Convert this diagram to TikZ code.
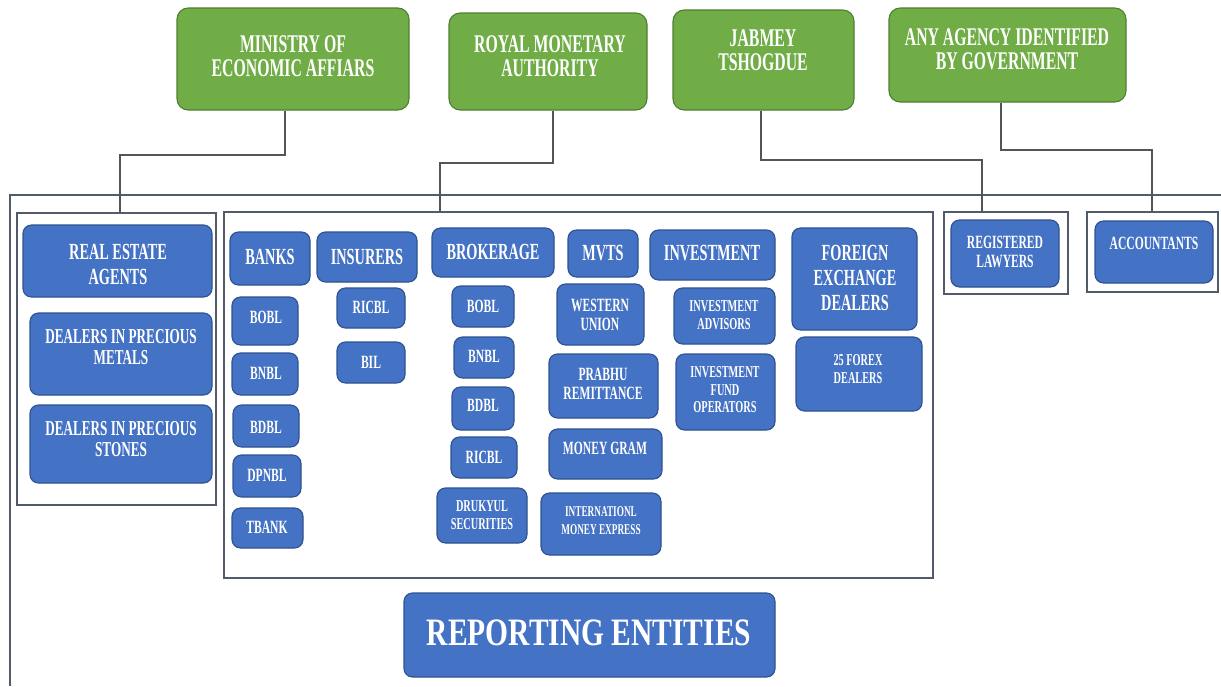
\documentclass[tikz,border=0pt]{standalone}
\usepackage{fontspec}
\newfontfamily\condfont[FakeStretch=0.62]{Liberation Serif}
\newfontfamily\titlefont[FakeStretch=0.76]{Liberation Serif}
\usetikzlibrary{fit}
\definecolor{govgreen}{HTML}{70AD47}
\definecolor{govgreenline}{HTML}{507E32}
\definecolor{entblue}{HTML}{4472C4}
\definecolor{entblueline}{HTML}{2F528F}
\definecolor{frameline}{HTML}{515B69}
\definecolor{linkline}{HTML}{555555}
\tikzset{
  govbox/.style={draw=govgreenline, fill=govgreen, line width=0.8pt, rounded corners=8pt, inner sep=0pt},
  entbox/.style={draw=entblueline, fill=entblue, line width=0.8pt, rounded corners=6pt, inner sep=0pt},
  groupbox/.style={draw=frameline, line width=1pt, inner sep=0pt},
  link/.style={draw=linkline, line width=1.2pt},
  lbl/.style={text=white, align=center, inner sep=0pt},
  govtxt/.style={lbl, font=\fontsize{18.1}{17}\condfont\bfseries},
  headtxt/.style={lbl, font=\fontsize{16.4}{17.8}\condfont\bfseries},
  midtxt/.style={lbl, font=\fontsize{15.1}{14.6}\condfont\bfseries},
  subtxt/.style={lbl, font=\fontsize{13.3}{13.5}\condfont\bfseries},
  smalltxt/.style={lbl, font=\fontsize{11.8}{12.4}\condfont\bfseries},
  tinytxt/.style={lbl, font=\fontsize{10.6}{12.8}\condfont\bfseries},
  bigtxt/.style={lbl, font=\fontsize{27.6}{30}\titlefont\bfseries},
}
\begin{document}
\begin{tikzpicture}[x=0.025cm, y=-0.025cm]
  \useasboundingbox (0,0) rectangle (1221,686);
  \fill[white] (0,0) rectangle (1221,686);

  \draw[groupbox] (1221,195) -- (10,195) -- (10,686);

  \node[govbox, fit={(177,8) (409,110)}] (moea) {};
  \node[govtxt] (moea-t) at (293,56) {MINISTRY OF\\ECONOMIC AFFIARS};
  \node[govbox, fit={(449,13) (647,110)}] (rma) {};
  \node[govtxt] (rma-t) at (550,56) {ROYAL MONETARY\\AUTHORITY};
  \node[govbox, fit={(673,10) (854,110)}] (jt) {};
  \node[govtxt] (jt-t) at (763,50) {JABMEY\\TSHOGDUE};
  \node[govbox, fit={(889,8) (1126,102)}] (agency) {};
  \node[govtxt] (agency-t) at (1007,49) {ANY AGENCY IDENTIFIED\\BY GOVERNMENT};

  \node[groupbox, fit={(17,213) (216,505)}] (dnfbp) {};
  \node[groupbox, fit={(224,212) (933,578)}] (fi) {};
  \node[groupbox, fit={(944,212) (1068,294)}] (lawgrp) {};
  \node[groupbox, fit={(1087,212) (1218,292)}] (accgrp) {};

  \coordinate (moea-bend) at (285,155);
  \coordinate (moea-drop) at (120,155);
  \coordinate (rma-bend) at (553,163);
  \coordinate (rma-drop) at (440,163);
  \coordinate (jt-bend) at (761,160);
  \coordinate (jt-drop) at (982,160);
  \coordinate (agency-bend) at (1001,150);
  \coordinate (agency-drop) at (1152,150);
  \draw[link] (moea.south -| moea-bend) -- (moea-bend) -- (moea-drop) -- (moea-drop |- dnfbp.north);
  \draw[link] (rma.south -| rma-bend) -- (rma-bend) -- (rma-drop) -- (rma-drop |- fi.north);
  \draw[link] (jt.south -| jt-bend) -- (jt-bend) -- (jt-drop) -- (jt-drop |- lawgrp.north);
  \draw[link] (agency.south -| agency-bend) -- (agency-bend) -- (agency-drop) -- (agency-drop |- accgrp.north);

  \node[entbox, fit={(23,225) (212,297)}] (realty) {};
  \node[headtxt] (realty-t) at (118,264) {REAL ESTATE\\AGENTS};
  \node[entbox, fit={(30,313) (212,395)}] (metals) {};
  \node[midtxt] (metals-t) at (121,347) {DEALERS IN PRECIOUS\\METALS};
  \node[entbox, fit={(30,405) (212,483)}] (stones) {};
  \node[midtxt] (stones-t) at (121,439) {DEALERS IN PRECIOUS\\STONES};

  \node[entbox, fit={(230,232) (310,285)}] (banks) {};
  \node[headtxt] (banks-t) at (270,257) {BANKS};
  \node[entbox, fit={(232,297) (298,345)}] (bobl1) {};
  \node[subtxt] (bobl1-t) at (266,317) {BOBL};
  \node[entbox, fit={(232,353) (298,395)}] (bnbl1) {};
  \node[subtxt] (bnbl1-t) at (266,373) {BNBL};
  \node[entbox, fit={(233,405) (299,447)}] (bdbl1) {};
  \node[subtxt] (bdbl1-t) at (266,427) {BDBL};
  \node[entbox, fit={(233,455) (301,497)}] (dpnbl) {};
  \node[subtxt] (dpnbl-t) at (267,475) {DPNBL};
  \node[entbox, fit={(232,508) (303,548)}] (tbank) {};
  \node[subtxt] (tbank-t) at (267,527) {TBANK};

  \node[entbox, fit={(317,232) (417,282)}] (insurers) {};
  \node[headtxt] (insurers-t) at (367,257) {INSURERS};
  \node[entbox, fit={(337,288) (405,328)}] (ricbl1) {};
  \node[subtxt] (ricbl1-t) at (371,307) {RICBL};
  \node[entbox, fit={(337,342) (405,383)}] (bil) {};
  \node[subtxt] (bil-t) at (371,362) {BIL};

  \node[entbox, fit={(432,228) (554,277)}] (brokerage) {};
  \node[headtxt] (brokerage-t) at (493,252) {BROKERAGE};
  \node[entbox, fit={(452,286) (514,327)}] (bobl2) {};
  \node[subtxt] (bobl2-t) at (483,306) {BOBL};
  \node[entbox, fit={(454,337) (514,378)}] (bnbl2) {};
  \node[subtxt] (bnbl2-t) at (484,356) {BNBL};
  \node[entbox, fit={(452,387) (514,430)}] (bdbl2) {};
  \node[subtxt] (bdbl2-t) at (483,405) {BDBL};
  \node[entbox, fit={(451,437) (517,478)}] (ricbl2) {};
  \node[subtxt] (ricbl2-t) at (484,457) {RICBL};
  \node[entbox, fit={(437,488) (527,543)}] (drukyul) {};
  \node[smalltxt] (drukyul-t) at (482,515) {DRUKYUL\\SECURITIES};

  \node[entbox, fit={(568,230) (638,277)}] (mvts) {};
  \node[headtxt] (mvts-t) at (603,253) {MVTS};
  \node[entbox, fit={(557,284) (644,345)}] (wu) {};
  \node[subtxt] (wu-t) at (600,315) {WESTERN\\UNION};
  \node[entbox, fit={(549,354) (658,418)}] (prabhu) {};
  \node[subtxt] (prabhu-t) at (603,384) {PRABHU\\REMITTANCE};
  \node[entbox, fit={(549,429) (662,479)}] (mgram) {};
  \node[subtxt] (mgram-t) at (605,448) {MONEY GRAM};
  \node[entbox, fit={(541,493) (661,555)}] (imx) {};
  \node[tinytxt] (imx-t) at (601,521) {INTERNATIONL\\MONEY EXPRESS};

  \node[entbox, fit={(650,230) (775,280)}] (invest) {};
  \node[headtxt] (invest-t) at (712,253) {INVESTMENT};
  \node[entbox, fit={(674,288) (775,344)}] (advisors) {};
  \node[smalltxt] (advisors-t) at (724,315) {INVESTMENT\\ADVISORS};
  \node[entbox, fit={(676,354) (775,430)}] (fundops) {};
  \node[smalltxt] (fundops-t) at (725,390) {INVESTMENT\\FUND\\OPERATORS};

  \node[entbox, fit={(792,228) (917,330)}] (fxd) {};
  \node[headtxt] (fxd-t) at (855,278) {FOREIGN\\EXCHANGE\\DEALERS};
  \node[entbox, fit={(796,337) (922,411)}] (forex) {};
  \node[smalltxt] (forex-t) at (858,369) {25 FOREX\\DEALERS};

  \node[entbox, fit={(951,220) (1059,287)}] (lawyers) {};
  \node[subtxt] (lawyers-t) at (1005,252) {REGISTERED\\LAWYERS};
  \node[entbox, fit={(1095,221) (1213,283)}] (accountants) {};
  \node[subtxt] (accountants-t) at (1154,243) {ACCOUNTANTS};

  \node[entbox, fit={(404,593) (775,677)}] (re) {};
  \node[bigtxt] (re-t) at (589,633) {REPORTING ENTITIES};
\end{tikzpicture}
\end{document}
